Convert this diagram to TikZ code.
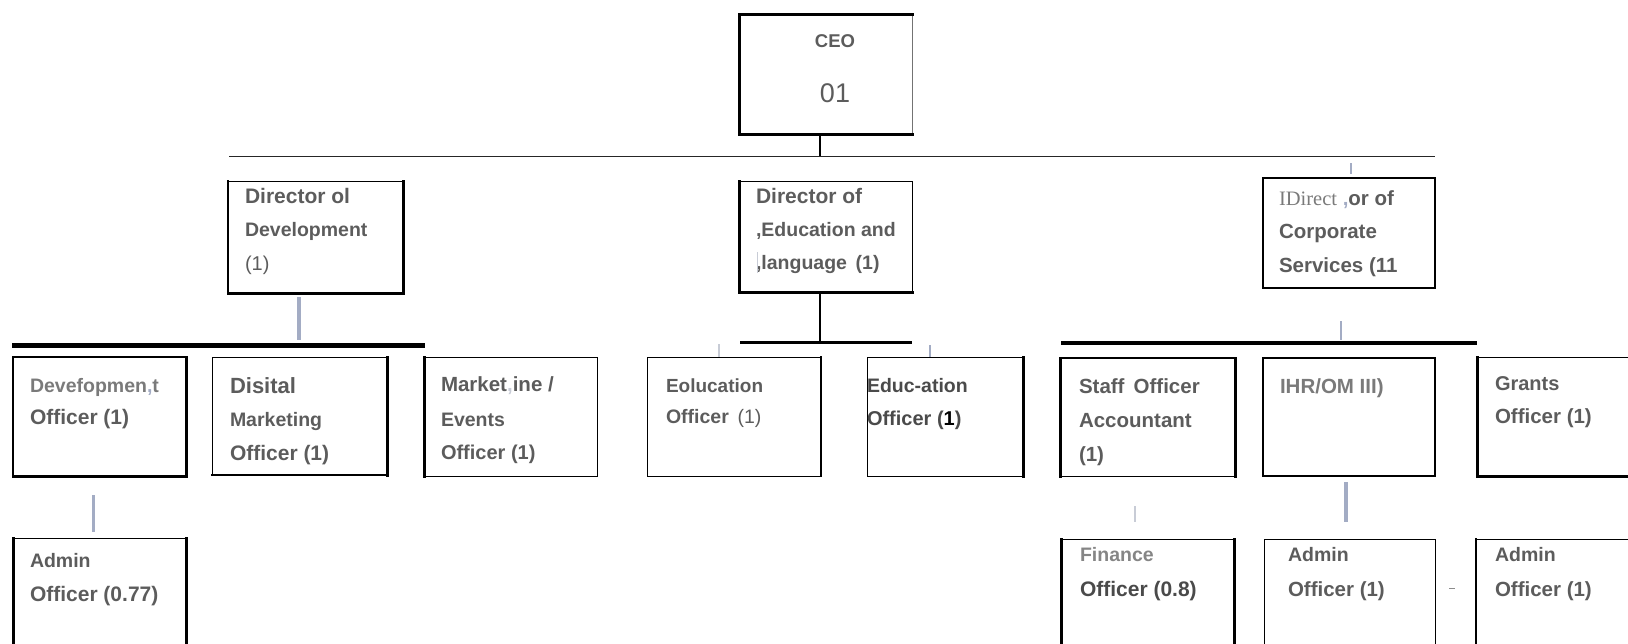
\documentclass[tikz,border=0pt]{standalone}
\usepackage{fontspec}
\setmainfont{Liberation Sans}
\newfontfamily\serifreg{Liberation Serif}
\definecolor{txt}{HTML}{5C5C5C}
\definecolor{txtd}{HTML}{4A4A4A}
\definecolor{txtl}{HTML}{7A7A7A}
\definecolor{txtll}{HTML}{858585}
\definecolor{slate}{HTML}{A3ACC4}
\definecolor{faint}{HTML}{C8CCD6}
\newcommand\fsz[1]{\fontsize{#1}{#1}\selectfont}
\begin{document}
\begin{tikzpicture}[x=1pt,y=-1pt,
  box/.style={draw=black,line width=1pt,anchor=north west,inner sep=0pt,outer sep=0pt},
  thk/.style={line width=3pt,line cap=rect},
  med/.style={line width=2pt,line cap=rect},
  lbl/.style={anchor=base west,inner sep=0pt,outer sep=0pt,text=txt,font=\bfseries\fsz{19.5}},
  tick/.style={draw=slate,line width=1.2pt},
  bigtick/.style={draw=slate,line width=4pt}]
\useasboundingbox (0,0) rectangle (1628,643);
\begin{scope}
\clip (0,0) rectangle (1628,643);
% ---------- boxes ----------
\node[box,draw=black!55,minimum width=173pt,minimum height=120pt] (ceo) at (739,14) {};
\node[box,minimum width=175pt,minimum height=112pt] (dd) at (228,181) {};
\node[box,minimum width=173pt,minimum height=111pt] (de) at (739,181) {};
\node[box,line width=2pt,minimum width=172pt,minimum height=110pt] (dc) at (1263,178) {};
\node[box,line width=2pt,minimum width=173pt,minimum height=119pt] (o1) at (13,357) {};
\node[box,minimum width=175pt,minimum height=118pt] (o2) at (212,357) {};
\node[box,minimum width=173pt,minimum height=119pt] (o3) at (424,357) {};
\node[box,minimum width=174pt,minimum height=119pt] (o4) at (647,357) {};
\node[box,minimum width=156pt,minimum height=119pt] (o5) at (867,357) {};
\node[box,minimum width=175pt,minimum height=118pt] (o6) at (1060,358) {};
\node[box,line width=1.5pt,minimum width=172pt,minimum height=118pt] (o7) at (1263,358) {};
\node[box,minimum width=170pt,minimum height=119pt] (o8) at (1477,357) {};
\node[box,minimum width=173pt,minimum height=120pt] (a1) at (13,538) {};
\node[box,minimum width=173pt,minimum height=120pt] (a2) at (1061,539) {};
\node[box,minimum width=171pt,minimum height=120pt] (a3) at (1264,539) {};
\node[box,minimum width=170pt,minimum height=120pt] (a4) at (1476,539) {};
% ---------- heavier sides ----------
\draw[thk] (ceo.north east) -- (ceo.north west) -- (ceo.south west) -- (ceo.south east);
\draw[thk] (dd.north east) -- (dd.south east) -- (dd.south west);
\draw[med] (dd.north west) -- (dd.south west);
\draw[thk] (de.north west) -- (de.south west) -- (de.south east);
\draw[thk] (o1.north east) -- (o1.south east) -- (o1.south west);
\draw[thk] (o2.north east) -- (o2.south east);
\draw[med] (o2.south west) -- (o2.south east);
\draw[thk] (o3.north west) -- (o3.south west);
\draw[med] (o4.north east) -- (o4.south east);
\draw[thk] (o5.north east) -- (o5.south east);
\draw[thk] (o6.north west) -- (o6.south west);
\draw[thk] (o6.north east) -- (o6.south east);
\draw[med] (o6.north west) -- (o6.north east);
\draw[thk] (o8.north west) -- (o8.south west) -- (o8.south east);
\draw[thk] (a1.north west) -- (a1.south west);
\draw[thk] (a1.north east) -- (a1.south east);
\draw[thk] (a2.north west) -- (a2.south west);
\draw[thk] (a2.north east) -- (a2.south east);
\draw[med] (a4.north west) -- (a4.south west);
% ---------- connectors ----------
\coordinate (busL) at (229,156);
\coordinate (busR) at (1435,156);
\draw[line width=1pt,draw=black!85] (busL) -- (busR);
\draw[line width=1.5pt] ([xshift=-5.5pt]ceo.south) -- ([xshift=-5.5pt]ceo.south |- busL);
% development branch
\coordinate (devL) at (12,345);
\coordinate (devR) at (425,345);
\draw[line width=5pt] (devL) -- (devR);
\draw[bigtick] ([shift={(-16.5,4)}]dd.south) -- ([xshift=-16.5pt]dd.south |- 0,340);
\draw[draw=slate,line width=3pt] ([shift={(-6.5,-43)}]a1.north) -- ([shift={(-6.5,-6)}]a1.north);
% education branch
\coordinate (edL) at (740,342);
\coordinate (edR) at (912,342);
\draw[line width=1.5pt] ([xshift=-5.5pt]de.south) -- ([xshift=-5.5pt]de.south |- edL);
\draw[line width=3pt] (edL) -- (edR);
\draw[draw=faint,line width=2pt] ([shift={(-15,-13)}]o4.north) -- ([xshift=-15pt]o4.north);
\draw[tick] ([shift={(-15,-12)}]o5.north) -- ([xshift=-15pt]o5.north);
% corporate branch
\coordinate (cL) at (1061,343);
\coordinate (cR) at (1477,343);
\draw[line width=4pt] (cL) -- (cR);
\draw[tick] ([shift={(2,-15)}]dc.north) -- ([shift={(2,-4)}]dc.north);
\draw[tick] ([shift={(-8,33)}]dc.south) -- ([shift={(-8,52)}]dc.south);
\draw[draw=faint,line width=1.5pt] ([shift={(-12.5,-33)}]a2.north) -- ([shift={(-12.5,-17)}]a2.north);
\draw[bigtick] ([shift={(-3.5,-57)}]a3.north) -- ([shift={(-3.5,-17)}]a3.north);
\coordinate (dashA) at (1449,588);
\coordinate (dashB) at (1455,588);
\draw[draw=black!45,line width=1pt] (dashA) -- (dashB);
% ---------- texts ----------
\node[lbl,anchor=base,font=\bfseries\fsz{18.5}] (t-ceo) at (835,47) {CEO};
\node[lbl,anchor=base,font=\fsz{27}] (t-ceo2) at (835,102) {01};
\node[lbl,font=\bfseries\fsz{21}] (t-dd1) at (245,203) {Director ol};
\node[lbl,font=\bfseries\fsz{19.5}] (t-dd2) at (245,236) {Development};
\node[lbl,font=\fsz{20}] (t-dd3) at (245,270) {(1)};
\node[lbl,font=\bfseries\fsz{21}] (t-de1) at (756,203) {Director of};
\node[lbl] (t-de2) at (756,236) {,Education and};
\node[lbl] (t-de3) at (756,269) {,language\, (1)};
\draw[draw=faint,line width=0.6pt] ([shift={(1,-17)}]t-de3.base west) -- ([shift={(1,4)}]t-de3.base west);
\node[lbl,font=\bfseries\fsz{20.5}] (t-dc1) at (1279,205) {{\mdseries\serifreg\color{txtl}IDirect} {\color{slate},}or of};
\node[lbl,font=\bfseries\fsz{20.5}] (t-dc2) at (1279,238) {Corporate};
\node[lbl,font=\bfseries\fsz{20.5}] (t-dc3) at (1279,272) {Services (11};
\node[lbl,text=txtl] (t-o1a) at (30,392) {Devefopmen{\color{slate},}t};
\node[lbl,font=\bfseries\fsz{21}] (t-o1b) at (30,424) {Officer (1)};
\node[lbl,font=\bfseries\fsz{22}] (t-o2a) at (230,393) {Disital};
\node[lbl] (t-o2b) at (230,426) {Marketing};
\node[lbl,font=\bfseries\fsz{21}] (t-o2c) at (230,460) {Officer (1)};
\node[lbl,font=\bfseries\fsz{20.5}] (t-o3a) at (441,391) {Market{\color{faint},}ine /};
\node[lbl] (t-o3b) at (441,426) {Events};
\node[lbl,font=\bfseries\fsz{20}] (t-o3c) at (441,459) {Officer (1)};
\node[lbl,font=\bfseries\fsz{19}] (t-o4a) at (666,392) {Eolucation};
\node[lbl] (t-o4b) at (666,423) {Officer\, {\mdseries (1)}};
\node[lbl,text=txtd] (t-o5a) at (867,392) {Educ-ation};
\node[lbl,text=txtd,font=\bfseries\fsz{20}] (t-o5b) at (867,425) {Officer ({\color{black}1})};
\node[lbl,font=\bfseries\fsz{20.5}] (t-o6a) at (1079,393) {Staff\, Officer};
\node[lbl,font=\bfseries\fsz{20.5}] (t-o6b) at (1079,427) {Accountant};
\node[lbl,font=\bfseries\fsz{20.5}] (t-o6c) at (1079,461) {(1)};
\node[lbl,text=txtl,font=\bfseries\fsz{20.5}] (t-o7) at (1280,393) {IHR/OM III)};
\node[lbl,font=\bfseries\fsz{20}] (t-o8a) at (1495,390) {Grants};
\node[lbl,font=\bfseries\fsz{20.5}] (t-o8b) at (1495,423) {Officer (1)};
\node[lbl] (t-a1a) at (30,567) {Admin};
\node[lbl,font=\bfseries\fsz{21}] (t-a1b) at (30,601) {Officer (0.77)};
\node[lbl,text=txtll] (t-a2a) at (1080,561) {Finance};
\node[lbl,text=txtd,font=\bfseries\fsz{21}] (t-a2b) at (1080,596) {Officer (0.8)};
\node[lbl] (t-a3a) at (1288,561) {Admin};
\node[lbl,font=\bfseries\fsz{20.5}] (t-a3b) at (1288,596) {Officer (1)};
\node[lbl] (t-a4a) at (1495,561) {Admin};
\node[lbl,font=\bfseries\fsz{20.5}] (t-a4b) at (1495,596) {Officer (1)};
\end{scope}
\end{tikzpicture}
\end{document}
